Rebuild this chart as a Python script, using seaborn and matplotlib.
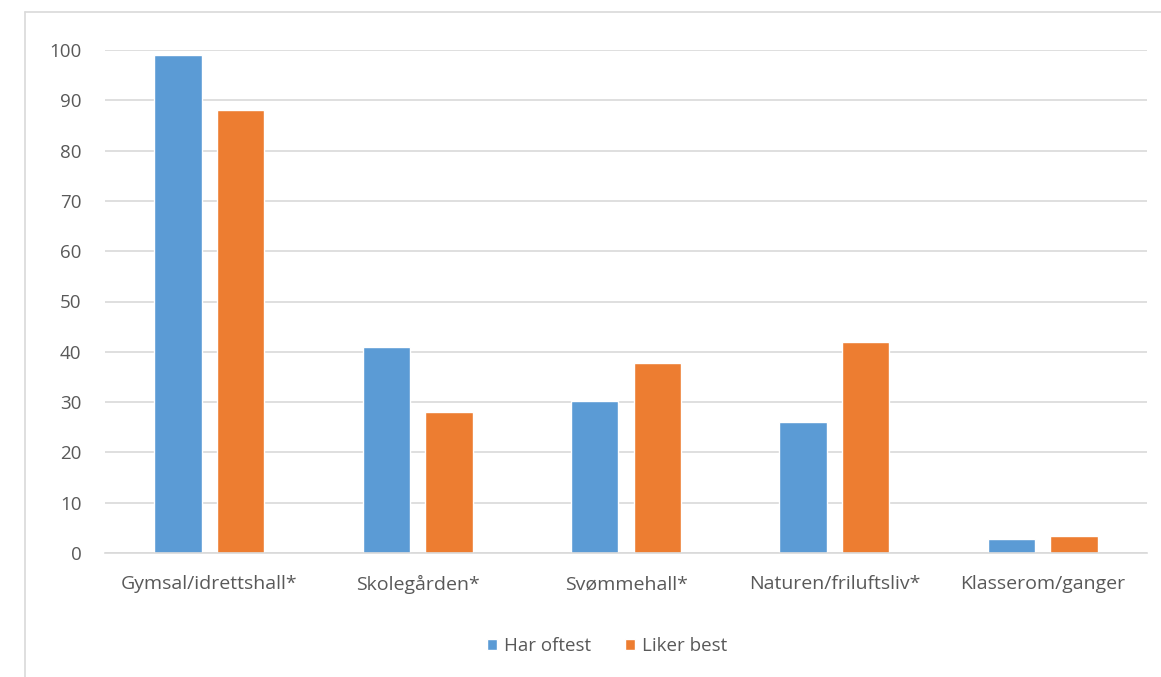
import matplotlib
matplotlib.use("Agg")
import matplotlib.pyplot as plt
from matplotlib.lines import Line2D
import pandas as pd
import seaborn as sns

# Survey results: where pupils have PE most often vs. where they like it best
categories = ["Gymsal/idrettshall*", "Skolegården*", "Svømmehall*",
              "Naturen/friluftsliv*", "Klasserom/ganger"]
har_oftest = [99, 41, 30.3, 26, 2.8]
liker_best = [88, 28, 37.7, 42, 3.3]
series_names = ["Har oftest", "Liker best"]
y_ticks = [0, 10, 20, 30, 40, 50, 60, 70, 80, 90, 100]

df = pd.DataFrame({
    "Sted": categories * 2,
    "Andel": har_oftest + liker_best,
    "Serie": [series_names[0]] * len(categories) + [series_names[1]] * len(categories),
})

sns.set_theme(style="white")
plt.rcParams["font.family"] = ["Open Sans", "DejaVu Sans"]
text_color = "#595959"
grid_color = "#D9D9D9"

fig = plt.figure(figsize=(11.61, 6.77), dpi=100)
ax = fig.add_axes([105 / 1161, 1 - 553 / 677, (1147 - 105) / 1161, (553 - 50) / 677])

sns.barplot(
    data=df, x="Sted", y="Andel", hue="Serie", order=categories,
    hue_order=series_names, palette=["#5B9BD5", "#ED7D31"],
    width=0.6, gap=0.24, saturation=1, ax=ax, legend=True,
)

ax.set_xlim(-0.5, len(categories) - 0.5)
ax.set_ylim(0, 100)
ax.set_yticks(y_ticks)
ax.set_xlabel("")
ax.set_ylabel("")
ax.yaxis.grid(True, color=grid_color, linewidth=1.2)
ax.set_axisbelow(True)
for side in ["left", "right", "top"]:
    ax.spines[side].set_visible(False)
ax.spines["bottom"].set_color(grid_color)
ax.spines["bottom"].set_linewidth(1.2)
ax.tick_params(axis="y", length=0, pad=17, labelsize=13.5, labelcolor=text_color)
ax.tick_params(axis="x", length=0, pad=16, labelsize=14, labelcolor=text_color)

ax.legend_.remove()
handles, labels = ax.get_legend_handles_labels()
fig.legend(
    handles, labels, loc="center", bbox_to_anchor=(607 / 1161, 1 - 646 / 677),
    ncol=2, frameon=False, fontsize=13.5, labelcolor=text_color,
    handlelength=0.55, handleheight=0.55, handletextpad=0.35, columnspacing=1.8,
)

# Light chart frame along the top and left edges
fig.add_artist(Line2D([25 / 1161, 25 / 1161], [0, 1 - 12 / 677],
                      transform=fig.transFigure, color="#D9D9D9", linewidth=1.2))
fig.add_artist(Line2D([25 / 1161, 1], [1 - 12 / 677, 1 - 12 / 677],
                      transform=fig.transFigure, color="#D9D9D9", linewidth=1.2))

fig.savefig("out.png", dpi=100)
